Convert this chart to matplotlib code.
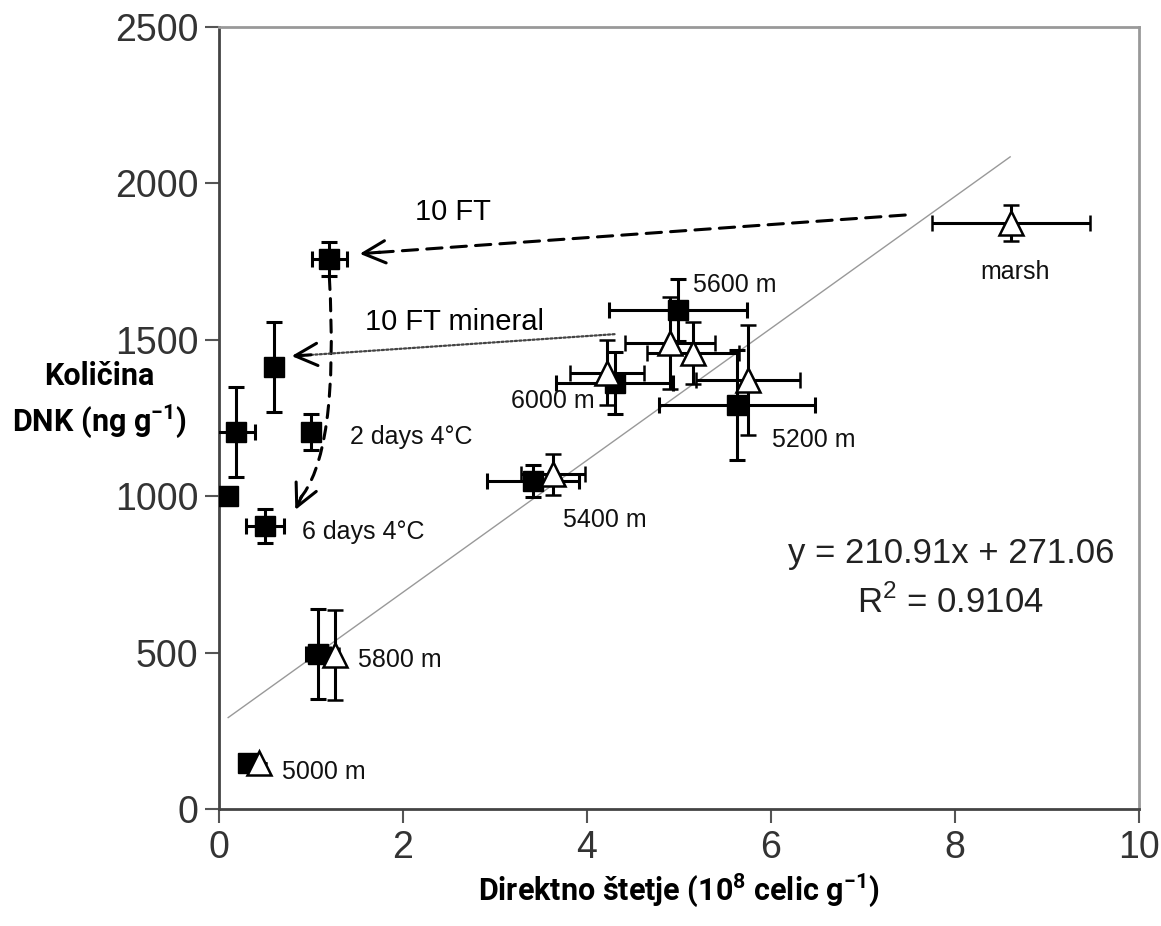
import matplotlib
matplotlib.use('Agg')
import matplotlib.pyplot as plt
from matplotlib.patches import FancyArrowPatch
from matplotlib.path import Path
import numpy as np

plt.rcParams['font.family'] = ['Liberation Sans', 'DejaVu Sans']
plt.rcParams['mathtext.fontset'] = 'custom'
plt.rcParams['mathtext.bf'] = 'Roboto:bold'
plt.rcParams['mathtext.rm'] = 'Liberation Sans'

# filled squares
sq_x = [1.2, 0.6, 0.18, 1.0, 0.1, 0.5, 1.08, 0.32, 3.41, 4.30, 4.99, 5.63]
sq_y = [1758, 1413, 1205, 1205, 1000, 905, 495, 147, 1049, 1362, 1595, 1292]
sq_xerr = [0.19, 0, 0.21, 0, 0, 0.21, 0.13, 0, 0.5, 0.64, 0.75, 0.85]
sq_yerr = [55, 145, 145, 58, 0, 55, 145, 0, 50, 100, 100, 176]

# open triangles
tr_x = [4.22, 4.90, 5.15, 5.75, 3.63, 1.26, 0.43, 8.61]
tr_y = [1395, 1490, 1458, 1372, 1070, 492, 147, 1873]
tr_xerr = [0.4, 0.49, 0.5, 0.57, 0.35, 0.05, 0, 0.86]
tr_yerr = [105, 147, 100, 175, 65, 145, 0, 57]

# regression line
slope = 210.91
intercept = 271.06
fit_x = [0.1, 8.6]

# point labels
lab_text = ['5600 m', '6000 m', '5200 m', '5400 m', '5800 m', '5000 m', 'marsh',
            '2 days 4°C', '6 days 4°C']
lab_x = [5.15, 3.17, 6.01, 3.74, 1.51, 0.68, 8.65, 1.42, 0.9]
lab_y = [1675, 1304, 1180, 924, 476, 118, 1717, 1189, 886]
lab_ha = ['left', 'left', 'left', 'left', 'left', 'left', 'center', 'left', 'left']

fig = plt.figure(figsize=(11.61, 9.26), dpi=100)
ax = fig.add_axes([0.1886, 0.1264, 0.7924, 0.8444])

fx = np.array(fit_x)
ax.plot(fx, slope * fx + intercept, color='#999999', lw=1.0, zorder=1)

ax.errorbar(sq_x, sq_y, xerr=sq_xerr, yerr=sq_yerr, fmt='s', ms=14,
            mfc='black', mec='black', ecolor='black', elinewidth=2.2,
            capsize=6, capthick=2.2, zorder=3)
ax.errorbar(tr_x, tr_y, xerr=tr_xerr, yerr=tr_yerr, fmt='^', ms=17,
            mfc='white', mec='black', mew=1.8, ecolor='black', elinewidth=2.2,
            capsize=6, capthick=2.2, zorder=4)

for t, x, y, ha in zip(lab_text, lab_x, lab_y, lab_ha):
    ax.text(x, y, t, fontsize=18, ha=ha, va='center', color='#111111', zorder=5)

# arrows
head = dict(arrowstyle='->, head_length=0.8, head_width=0.4', lw=2.2,
            color='black', mutation_scale=20, shrinkA=0, shrinkB=0)
ax.annotate('', xy=(1.62, 1777), xytext=(7.46, 1899),
            arrowprops=dict(arrowstyle='-', lw=2.2, ls=(0, (5, 3)),
                            color='black', shrinkA=0, shrinkB=0))
ax.annotate('', xy=(1.53, 1775), xytext=(1.75, 1780), arrowprops=head)
ax.text(2.13, 1908, '10 FT', fontsize=21, ha='left', va='center')

ax.annotate('', xy=(0.86, 1449), xytext=(4.3, 1518),
            arrowprops=dict(arrowstyle='-', lw=1.6, ls=(0, (1, 1)),
                            color='#444444', shrinkA=0, shrinkB=0))
ax.annotate('', xy=(0.79, 1448), xytext=(1.0, 1452), arrowprops=head)
ax.text(1.59, 1557, '10 FT mineral', fontsize=21, ha='left', va='center')

curve_pts = [(1.2, 1700), (1.31, 1130), (0.86, 985)]
curve = FancyArrowPatch(path=Path(curve_pts, [Path.MOVETO, Path.CURVE3, Path.CURVE3]),
                        arrowstyle='-', lw=2.2, ls=(0, (4, 3)), color='black',
                        shrinkA=0, shrinkB=0)
ax.add_patch(curve)
ax.annotate('', xy=(0.83, 956), xytext=(0.9, 1000), arrowprops=head)

ax.text(9.73, 818, 'y = 210.91x + 271.06', fontsize=25, ha='right', va='center',
        color='#222222')
ax.text(7.95, 662, 'R$^2$ = 0.9104', fontsize=25, ha='center', va='center',
        color='#222222')

ax.set_xlim(0, 10)
ax.set_ylim(0, 2500)
ax.set_xticks([0, 2, 4, 6, 8, 10])
ax.set_yticks([0, 500, 1000, 1500, 2000, 2500])
ax.tick_params(direction='out', length=10, width=1.5, labelsize=27,
               labelcolor='#333333', color='#555555', pad=5)

for s in ['left', 'bottom']:
    ax.spines[s].set_color('#444444')
    ax.spines[s].set_linewidth(2)
for s in ['top', 'right']:
    ax.spines[s].set_color('#999999')
    ax.spines[s].set_linewidth(2)

ax.set_xlabel(r'Direktno štetje (10$^{\mathbf{8}}$ celic g$^{\mathbf{-1}}$)',
              fontsize=22, fontweight='bold', family='Roboto', labelpad=4)
ax.text(-0.13, 0.522, 'Količina\nDNK (ng g$^{\\mathbf{-1}}$)', transform=ax.transAxes,
        fontsize=22, fontweight='bold', family='Roboto', ha='center', va='center',
        linespacing=1.4)

fig.savefig('out.png', dpi=100)
